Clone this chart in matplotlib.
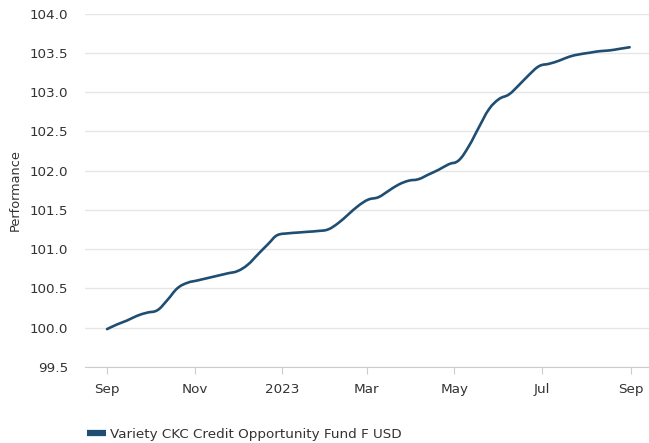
import numpy as np
import pandas as pd
import matplotlib
matplotlib.use('Agg')
import matplotlib.pyplot as plt
import matplotlib.dates as mdates
from matplotlib.path import Path
from matplotlib.patches import PathPatch
from matplotlib.lines import Line2D

#%% data (weekly values, Sep 2022 - Aug 2023)
start_date = '2022-09-01'
performance = [99.98, 100.04, 100.09, 100.15, 100.19, 100.22, 100.35, 100.50,
               100.57, 100.60, 100.63, 100.66, 100.69, 100.72, 100.80, 100.93,
               101.06, 101.18, 101.20, 101.21, 101.22, 101.23, 101.25, 101.33,
               101.44, 101.55, 101.63, 101.66, 101.74, 101.82, 101.87, 101.89,
               101.95, 102.01, 102.08, 102.13, 102.31, 102.55, 102.78, 102.91,
               102.97, 103.09, 103.22, 103.33, 103.36, 103.40, 103.45, 103.48,
               103.50, 103.52, 103.53, 103.55, 103.57]
dates = pd.date_range(start_date, periods=len(performance), freq='7D')
series_name = 'Variety CKC Credit Opportunity Fund F USD'
y_ticks = [99.5, 100.0, 100.5, 101.0, 101.5, 102.0, 102.5, 103.0, 103.5, 104.0]

line_color = '#1f4e72'
text_color = '#333333'

#%% spline control points (same idea as a highcharts "spline" series)
def spline_path(x, y, smoothing=1.5):
    x = np.asarray(x, float)
    y = np.asarray(y, float)
    n = len(x)
    denom = smoothing + 1
    left = [None] * n
    right = [None] * n
    for i in range(1, n - 1):
        lcx = (smoothing * x[i] + x[i - 1]) / denom
        lcy = (smoothing * y[i] + y[i - 1]) / denom
        rcx = (smoothing * x[i] + x[i + 1]) / denom
        rcy = (smoothing * y[i] + y[i + 1]) / denom
        corr = (rcy - lcy) * (rcx - x[i]) / (rcx - lcx) + y[i] - rcy
        lcy += corr
        rcy += corr
        if lcy > y[i - 1] and lcy > y[i]:
            lcy = max(y[i - 1], y[i]); rcy = 2 * y[i] - lcy
        elif lcy < y[i - 1] and lcy < y[i]:
            lcy = min(y[i - 1], y[i]); rcy = 2 * y[i] - lcy
        if rcy > y[i + 1] and rcy > y[i]:
            rcy = max(y[i + 1], y[i]); lcy = 2 * y[i] - rcy
        elif rcy < y[i + 1] and rcy < y[i]:
            rcy = min(y[i + 1], y[i]); lcy = 2 * y[i] - rcy
        left[i] = (lcx, lcy)
        right[i] = (rcx, rcy)
    verts = [(x[0], y[0])]
    codes = [Path.MOVETO]
    for i in range(1, n):
        c1 = right[i - 1] if right[i - 1] is not None else (x[i - 1], y[i - 1])
        c2 = left[i] if left[i] is not None else (x[i], y[i])
        verts += [c1, c2, (x[i], y[i])]
        codes += [Path.CURVE4] * 3
    return Path(verts, codes)

#%% plot
plt.rcParams['font.family'] = 'DejaVu Sans'
fig = plt.figure(figsize=(6.49, 4.43), dpi=100)
ax = fig.add_axes([0.131, 0.172, 0.869, 0.7975])

xnum = mdates.date2num(dates)
ax.add_patch(PathPatch(spline_path(xnum, performance), facecolor='none',
                       edgecolor=line_color, lw=1.9, capstyle='round',
                       joinstyle='round', zorder=3))

ax.set_xlim(mdates.date2num(pd.Timestamp('2022-08-16 16:00')),
            mdates.date2num(pd.Timestamp('2023-09-13 12:00')))
ax.set_ylim(99.5, 104.0)

ax.xaxis.set_major_locator(mdates.MonthLocator(bymonth=[1, 3, 5, 7, 9, 11]))
def month_fmt(v, pos=None):
    d = mdates.num2date(v)
    return str(d.year) if d.month == 1 else d.strftime('%b')
ax.xaxis.set_major_formatter(plt.FuncFormatter(month_fmt))
ax.set_yticks(y_ticks)
ax.yaxis.set_major_formatter(plt.FormatStrFormatter('%.1f'))

ax.grid(axis='y', color='#e6e6e6', lw=1)
ax.set_axisbelow(True)
for s in ['top', 'right', 'left']:
    ax.spines[s].set_visible(False)
ax.spines['bottom'].set_color('#cccccc')
ax.tick_params(axis='x', length=5, color='#cccccc', pad=7, labelsize=9.7, labelcolor=text_color)
ax.tick_params(axis='y', length=0, pad=12, labelsize=9.7, labelcolor=text_color)
ax.set_ylabel('Performance', fontsize=9.3, color=text_color)
ax.yaxis.set_label_coords(-0.113, 0.5)

handle = Line2D([], [], color=line_color, lw=4.5, solid_capstyle='butt')
fig.legend([handle], [series_name], loc='lower left', bbox_to_anchor=(0.115, -0.022),
           frameon=False, fontsize=9.7, handlelength=1.45, handletextpad=0.3,
           labelcolor=text_color)

fig.savefig('out.png', dpi=100)
